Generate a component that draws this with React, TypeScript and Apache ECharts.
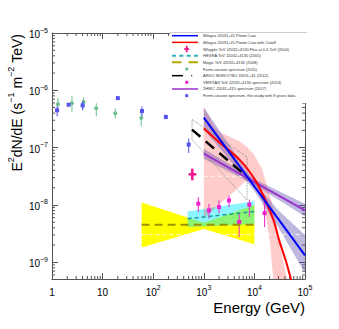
import React, { useEffect, useRef } from "react";
import * as echarts from "echarts";

// ---------- data (E in GeV, E^2 dN/dE) ----------
const fermiNewE = [1.26, 2.13, 4.03, 20, 60, 178, 503];
const fermiNewF = [4.48e-7, 5.6e-7, 5.47e-7, 7.3e-7, 4.35e-7, 3.42e-7, 1.13e-7];
const fermiNewLo = [3.52e-7, 5.3e-7, 4.48e-7, 6.77e-7, 3.52e-7, 3.12e-7, 8.05e-8];
const fermiNewHi = [5.26e-7, 5.98e-7, 6.43e-7, 7.96e-7, 5.26e-7, 3.81e-7, 1.44e-7];

const fermi2011E = [1.31, 2.48, 4.2, 7.5, 17.8, 58];
const fermi2011F = [5.7e-7, 5.93e-7, 6.25e-7, 4.85e-7, 3.97e-7, 3.29e-7];
const fermi2011Lo = [4.18e-7, 4.18e-7, 4.85e-7, 3.52e-7, 3.25e-7, 2.35e-7];
const fermi2011Hi = [7.46e-7, 7.96e-7, 7.55e-7, 5.93e-7, 4.85e-7, 4.13e-7];

const veritasE = [778, 1265, 1995, 3150, 5000, 7940, 15900];
const veritasF = [1.05e-8, 8.05e-9, 9.2e-9, 1.2e-8, 5.03e-9, 1.01e-8, 7.2e-9];
const veritasLo = [7.52e-9, 5.77e-9, 7.23e-9, 9.19e-9, 2.75e-9, 6.15e-9, 4.11e-9];
const veritasHi = [1.37e-8, 1.05e-8, 1.2e-8, 1.47e-8, 7.05e-9, 1.24e-8, 1.12e-8];

const whippleE = [593];
const whippleF = [3.42e-8];
const whippleELo = [501];
const whippleEHi = [711];
const whippleFLo = [2.69e-8];
const whippleFHi = [4.3e-8];

const milagroPLE = [1000, 100000];
const milagroPLF = [3.34e-7, 1.32e-9];
const milagroPLBandE = [1000, 3000, 10000, 30000, 100000];
const milagroPLBandHi = [5.0e-7, 1.2e-7, 2.5e-8, 8.0e-9, 3.0e-9];
const milagroPLBandLo = [2.1e-7, 6.6e-8, 1.75e-8, 4.0e-9, 6.5e-10];

const milagroCutE = [1000, 2120, 5250, 9860, 15560, 23900, 30900, 42700, 53600];
const milagroCutF = [2.15e-7, 1.19e-7, 6.0e-8, 2.91e-8, 1.36e-8, 5.38e-9, 2.41e-9, 9.95e-10, 4.8e-10];
const milagroCutUpE = [1000, 1250, 1500, 2000, 3000, 5000, 7000, 9640, 14100, 19100, 23900, 30100, 37800, 44100];
const milagroCutUpF = [5.0e-7, 3.66e-7, 2.6e-7, 1.9e-7, 1.6e-7, 1.3e-7, 1.05e-7, 7.85e-8, 4.3e-8, 1.8e-8, 8.05e-9, 2.75e-9, 9.5e-10, 4.8e-10];
const milagroCutLoE = [1000, 3000, 7700, 10400, 14000, 17200, 20600, 23600];
const milagroCutLoF = [5.8e-9, 1.37e-8, 2.88e-8, 2.3e-8, 1.2e-8, 6.0e-9, 2.0e-9, 5.0e-10];

const hawcE = [1000, 100000];
const hawcF = [7.85e-8, 8.05e-9];
const hawcBandE = [1000, 10000, 100000];
const hawcBandHi = [9.6e-8, 2.8e-8, 1.05e-8];
const hawcBandLo = [6.4e-8, 2.25e-8, 6.3e-9];

const hegraE = [480, 10000];
const hegraF = [5.75e-9, 7.7e-9];
const hegraBandHi = [7.7e-9, 1.17e-8];
const hegraBandLo = [4.1e-9, 4.6e-9];

const magicE = [59, 10000];
const magicF = [4.53e-9, 4.53e-9];
const magicBandE = [59, 1000, 10000];
const magicBandHi = [1.1e-8, 4.9e-9, 1.0e-8];
const magicBandLo = [1.8e-9, 3.8e-9, 2.05e-9];

const argoE = [585, 6600];
const argoF = [2.06e-7, 3.3e-8];
const argoBoxE = [585, 7140, 7140, 585, 585];
const argoBoxF = [3.1e-7, 6.85e-8, 1.2e-8, 1.38e-7, 3.1e-7];

// faint white fill-pattern streaks seen inside the bands
const streakUpperE = [1000, 7000];
const streakUpperF = [3.16e-8, 3.16e-8];
const streakLowerE = [59, 100000];
const streakLowerF = [3.03e-9, 3.03e-9];

const legendLabels = [
  "Milagro J2031+41 Power Law",
  "Milagro J2031+41 Power Law with Cutoff",
  "Whipple TeV J2032+4130 Flux at 0.6 TeV (2004)",
  "HEGRA TeV J2032+4130 (2005)",
  "Magic TeV J2032+4130 (2008)",
  "Fermi cocoon spectrum (2011)",
  "ARGO MGRO/YBJ J2031+41 (2012)",
  "VERITAS TeV J2032+4130 spectrum (2014)",
  "2HWC J2031+415 spectrum (2017)",
  "Fermi cocoon spectrum, this study with 8 years data",
];

const X_MIN = 1;
const X_MAX = 1e5;
const Y_MIN = 5.1e-10;
const Y_MAX = 1e-5;

const FONT = "Liberation Sans, Arial, Helvetica, sans-serif";

const C = {
  blue: "#0000ff",
  red: "#ff0000",
  purple: "#9a32cd",
  fermiNew: "#5555ee",
  fermi2011: "#6cbf8f",
  veritas: "#f020d0",
  whipple: "#f5158c",
  hegra: "#1a9a9a",
  magic: "#9a9400",
  frame: "#555555",
};

function zip(...arrs: number[][]) {
  return arrs[0].map((_, i) => arrs.map((a) => a[i]));
}

function bandSeries(upE: number[], upF: number[], loE: number[], loF: number[], fill: string) {
  return {
    type: "custom",
    coordinateSystem: "cartesian2d",
    silent: true,
    data: zip(upE, upF),
    renderItem: (params: any, api: any) => {
      if (params.dataIndex !== 0) return null;
      const pts: number[][] = [];
      for (let i = 0; i < upE.length; i++) pts.push(api.coord([upE[i], upF[i]]));
      for (let i = loE.length - 1; i >= 0; i--) pts.push(api.coord([loE[i], loF[i]]));
      const cs = params.coordSys;
      const clipped = (echarts.graphic as any).clipPointsByRect(pts, {
        x: cs.x, y: cs.y, width: cs.width, height: cs.height,
      });
      return { type: "polygon", shape: { points: clipped }, style: { fill } };
    },
  };
}

function errSeries(E: number[], F: number[], lo: number[], hi: number[], color: string, shape: string, size: number) {
  return {
    type: "custom",
    coordinateSystem: "cartesian2d",
    silent: true,
    data: zip(E, F, lo, hi),
    renderItem: (params: any, api: any) => {
      const p = api.coord([api.value(0), api.value(1)]);
      const pl = api.coord([api.value(0), api.value(2)]);
      const ph = api.coord([api.value(0), api.value(3)]);
      const children: any[] = [
        { type: "line", shape: { x1: p[0], y1: ph[1], x2: p[0], y2: pl[1] }, style: { stroke: color, lineWidth: 1 } },
      ];
      if (shape === "rect") {
        children.push({ type: "rect", shape: { x: p[0] - size / 2, y: p[1] - size / 2, width: size, height: size }, style: { fill: color } });
      } else {
        children.push({ type: "circle", shape: { cx: p[0], cy: p[1], r: size / 2 }, style: { fill: color } });
      }
      return { type: "group", children };
    },
  };
}

function lineSeries(E: number[], F: number[], color: string, width: number, type: any = "solid", smooth: any = false) {
  return {
    type: "line",
    data: zip(E, F),
    showSymbol: false,
    symbol: "none",
    smooth,
    silent: true,
    clip: true,
    lineStyle: { color, width, type },
  };
}

// minor tick positions (axis decoration)
const xMinor: number[] = [];
for (let d = 0; d < 5; d++) for (let k = 2; k <= 9; k++) xMinor.push(k * Math.pow(10, d));
const yMinor: number[] = [];
for (let d = -10; d < -5; d++)
  for (let k = 2; k <= 9; k++) {
    const v = k * Math.pow(10, d);
    if (v > Y_MIN && v < Y_MAX) yMinor.push(v);
  }

const supRich = {
  b: { fontSize: 10, fontFamily: FONT, color: "#000", lineHeight: 13, verticalAlign: "bottom" },
  s: { fontSize: 7, fontFamily: FONT, color: "#000", lineHeight: 8, verticalAlign: "top" },
};

function isDecade(v: number) {
  const l = Math.log10(v);
  return Math.abs(l - Math.round(l)) < 1e-6;
}

function xLabel(v: number) {
  if (!isDecade(v)) return "";
  const n = Math.round(Math.log10(v));
  if (n === 0) return "{b|1}";
  if (n === 1) return "{b|10}";
  return "{b|10}{s|" + n + "}";
}
function yLabel(v: number) {
  if (!isDecade(v)) return "";
  const n = Math.round(Math.log10(v));
  return "{b|10}{s|" + (n < 0 ? "\u2212" + -n : String(n)) + "}";
}

const axisCommon = {
  type: "log",
  logBase: 10,
  axisLine: { show: true, onZero: false, lineStyle: { color: C.frame, width: 1 } },
  axisTick: { show: true, inside: true, length: 6, lineStyle: { color: C.frame, width: 1 } },
  splitLine: { show: false },
};

function buildLegend() {
  const els: any[] = [];
  const z = 100;
  els.push({ type: "rect", z, shape: { x: 170, y: 33, width: 140, height: 70 }, style: { fill: "#ffffff" } });
  els.push({ type: "line", z, shape: { x1: 170, y1: 32.5, x2: 307, y2: 32.5 }, style: { stroke: "#cccccc", lineWidth: 1 } });
  const x0 = 172, x1 = 198, xs = 186.7, xt = 203;
  legendLabels.forEach((label, i) => {
    const y = 35.7 + 6.66 * i;
    const ln = (stroke: string, w: number, dash?: number[], a = x0, b = x1) => ({
      type: "line", z, shape: { x1: a, y1: y, x2: b, y2: y }, style: { stroke, lineWidth: w, lineDash: dash },
    });
    if (i === 0) els.push(ln(C.blue, 1.5));
    if (i === 1) els.push(ln(C.red, 1.5));
    if (i === 2) {
      els.push({ type: "line", z, shape: { x1: xs - 2.5, y1: y, x2: xs + 2.5, y2: y }, style: { stroke: C.whipple, lineWidth: 1.8 } });
      els.push({ type: "line", z, shape: { x1: xs, y1: y - 3.2, x2: xs, y2: y + 3.2 }, style: { stroke: C.whipple, lineWidth: 1.8 } });
    }
    if (i === 3) els.push(ln("#2ab5b5", 2, [4, 3.3]));
    if (i === 4) els.push(ln("#b0a800", 2, [9.5, 7]));
    if (i === 5) els.push({ type: "circle", z, shape: { cx: xs, cy: y, r: 1.6 }, style: { fill: C.fermi2011 } });
    if (i === 6) {
      els.push(ln("#000000", 1.5, undefined, x0, 183));
      els.push({ type: "circle", z, shape: { cx: 191.7, cy: y, r: 0.6 }, style: { fill: "#000" } });
    }
    if (i === 7) els.push({ type: "rect", z, shape: { x: xs - 1.5, y: y - 1.5, width: 3, height: 3 }, style: { fill: C.veritas } });
    if (i === 8) els.push(ln(C.purple, 1.5));
    if (i === 9) els.push({ type: "rect", z, shape: { x: xs - 1.5, y: y - 1.5, width: 3, height: 3 }, style: { fill: C.fermiNew } });
    els.push({
      type: "text", z, x: xt, y,
      style: { text: label, fontSize: 4, fontFamily: FONT, fill: "#333", align: "left", verticalAlign: "middle" },
    });
  });
  return els;
}

const titleRich = {
  b: { fontSize: 14, fontFamily: FONT, fill: "#000", color: "#000", lineHeight: 18, verticalAlign: "bottom" },
  s: { fontSize: 9, fontFamily: FONT, fill: "#000", color: "#000", lineHeight: 10, verticalAlign: "top" },
};

const option: any = {
  animation: false,
  backgroundColor: "#ffffff",
  textStyle: { fontFamily: FONT },
  grid: { left: 52, right: 34, top: 33, bottom: 50, containLabel: false },
  xAxis: [
    {
      ...axisCommon, min: X_MIN, max: X_MAX, position: "bottom",
      axisLabel: { show: true, margin: 5, formatter: xLabel, rich: supRich },
    },
    {
      ...axisCommon, min: X_MIN, max: X_MAX, position: "top", gridIndex: 0,
      axisLabel: { show: false },
    },
  ],
  yAxis: [
    {
      ...axisCommon, min: Y_MIN, max: Y_MAX, position: "left",
      axisLabel: { show: true, margin: 4, formatter: yLabel, rich: supRich },
    },
    {
      ...axisCommon, min: Y_MIN, max: Y_MAX, position: "right", gridIndex: 0,
      axisLabel: { show: false },
    },
  ],
  graphic: [
    {
      type: "text", x: 15, y: 34, rotation: Math.PI / 2,
      style: {
        text: "{b|E}{s|2}{b|dN/dE (s}{s|\u22121}{b| m}{s|\u22122}{b| TeV)}",
        rich: titleRich, align: "right", verticalAlign: "middle", fontFamily: FONT,
      },
    },
    {
      type: "text", x: 305, y: 307,
      style: { text: "Energy (GeV)", fontSize: 15, fontFamily: FONT, fill: "#000", align: "right", verticalAlign: "middle" },
    },
    ...buildLegend(),
  ],
  series: [
    // minor ticks
    {
      type: "custom", coordinateSystem: "cartesian2d", silent: true,
      data: xMinor.map((v) => [v, 1e-7]),
      renderItem: (params: any, api: any) => {
        const cs = params.coordSys;
        const x = api.coord([api.value(0), 1e-7])[0];
        return {
          type: "group",
          children: [
            { type: "line", shape: { x1: x, y1: cs.y + cs.height, x2: x, y2: cs.y + cs.height - 3 }, style: { stroke: C.frame, lineWidth: 1 } },
            { type: "line", shape: { x1: x, y1: cs.y, x2: x, y2: cs.y + 3 }, style: { stroke: C.frame, lineWidth: 1 } },
          ],
        };
      },
    },
    {
      type: "custom", coordinateSystem: "cartesian2d", silent: true,
      data: yMinor.map((v) => [10, v]),
      renderItem: (params: any, api: any) => {
        const cs = params.coordSys;
        const y = api.coord([10, api.value(1)])[1];
        return {
          type: "group",
          children: [
            { type: "line", shape: { x1: cs.x, y1: y, x2: cs.x + 3, y2: y }, style: { stroke: C.frame, lineWidth: 1 } },
            { type: "line", shape: { x1: cs.x + cs.width, y1: y, x2: cs.x + cs.width - 3, y2: y }, style: { stroke: C.frame, lineWidth: 1 } },
          ],
        };
      },
    },
    // bands
    bandSeries(magicBandE, magicBandHi, magicBandE, magicBandLo, "#ffff00"),
    bandSeries(hegraE, hegraBandHi, hegraE, hegraBandLo, "rgba(0,230,255,0.45)"),
    bandSeries(milagroCutUpE, milagroCutUpF, milagroCutLoE, milagroCutLoF, "rgba(255,0,0,0.2)"),
    bandSeries(milagroPLBandE, milagroPLBandHi, milagroPLBandE, milagroPLBandLo, "rgba(90,70,170,0.38)"),
    bandSeries(hawcBandE, hawcBandHi, hawcBandE, hawcBandLo, "rgba(90,70,170,0.38)"),
    lineSeries(streakUpperE, streakUpperF, "rgba(255,255,255,0.85)", 1, [4, 3]),
    lineSeries(streakLowerE, streakLowerF, "rgba(255,255,255,0.85)", 1, [4, 3]),
    // lines
    lineSeries(magicE, magicF, C.magic, 2, [8, 5]),
    lineSeries(hegraE, hegraF, C.hegra, 1.5, [4, 3]),
    lineSeries(argoBoxE, argoBoxF, "#777777", 0.8, "dotted"),
    lineSeries(argoE, argoF, "#000000", 2.5, [11, 7]),
    lineSeries(hawcE, hawcF, C.purple, 2),
    lineSeries(milagroCutE, milagroCutF, C.red, 2, "solid", 0.3),
    lineSeries(milagroPLE, milagroPLF, C.blue, 2),
    // points
    errSeries(fermi2011E, fermi2011F, fermi2011Lo, fermi2011Hi, C.fermi2011, "circle", 4),
    errSeries(fermiNewE, fermiNewF, fermiNewLo, fermiNewHi, C.fermiNew, "rect", 4),
    errSeries(veritasE, veritasF, veritasLo, veritasHi, C.veritas, "rect", 4),
    {
      type: "custom", coordinateSystem: "cartesian2d", silent: true,
      data: zip(whippleE, whippleF, whippleELo, whippleEHi, whippleFLo, whippleFHi),
      renderItem: (params: any, api: any) => {
        const p = api.coord([api.value(0), api.value(1)]);
        const xl = api.coord([api.value(2), api.value(1)])[0];
        const xh = api.coord([api.value(3), api.value(1)])[0];
        const yl = api.coord([api.value(0), api.value(4)])[1];
        const yh = api.coord([api.value(0), api.value(5)])[1];
        return {
          type: "group",
          children: [
            { type: "line", shape: { x1: xl, y1: p[1], x2: xh, y2: p[1] }, style: { stroke: C.whipple, lineWidth: 2.5 } },
            { type: "line", shape: { x1: p[0], y1: yh, x2: p[0], y2: yl }, style: { stroke: C.whipple, lineWidth: 2.5 } },
          ],
        };
      },
    },
  ],
};

export default function App() {
  const ref = useRef<HTMLDivElement>(null);
  useEffect(() => {
    const chart = echarts.init(ref.current!, undefined, { renderer: "svg" });
    chart.setOption(option);
    return () => chart.dispose();
  }, []);
  return (
    <div
      ref={ref}
      style={{ width: 339, height: 329, position: "absolute", left: 0, top: 0 }}
    />
  );
}
